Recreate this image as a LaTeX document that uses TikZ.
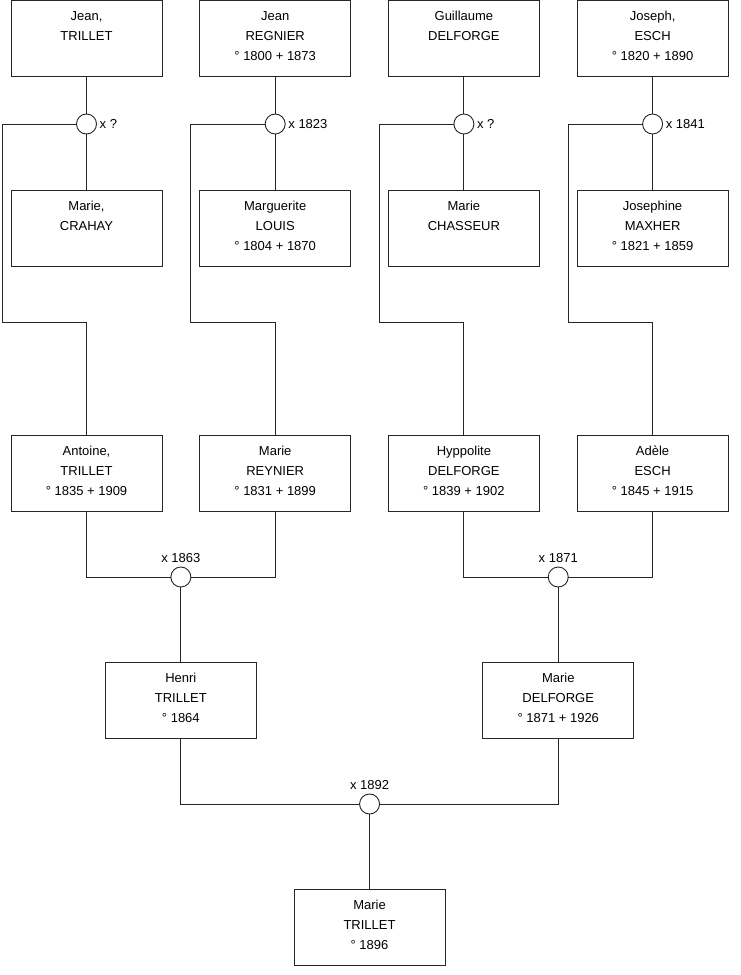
\documentclass[tikz,border=0pt]{standalone}
\usepackage{fontspec}
\setmainfont{Liberation Sans}
\usetikzlibrary{positioning,calc}

\begin{document}
\begin{tikzpicture}[
    node distance=37.7pt,
    person/.style={draw=black!85, line width=0.9pt, outer sep=0pt, minimum width=151pt, minimum height=76pt},
    who/.style={anchor=north, align=center, inner sep=0pt, yshift=-11pt, font=\fontsize{13}{20}\selectfont},
    wed/.style={circle, draw=black!85, line width=0.9pt, outer sep=0pt, minimum size=20pt, inner sep=0pt, fill=white},
    wedlabel/.style={font=\fontsize{13}{16}\selectfont, inner sep=1pt},
    link/.style={line width=0.9pt, black!85},
]
\useasboundingbox (0,0) rectangle (740pt,-975pt);

% generation 1
\node[person, label={[who]north:Jean,\\TRILLET}] (JT) at (86.5pt,-38pt) {};
\node[person, right=of JT, label={[who]north:Jean\\REGNIER\\° 1800 + 1873}] (JR) {};
\node[person, right=of JR, label={[who]north:Guillaume\\DELFORGE}] (GD) {};
\node[person, right=of GD, label={[who]north:Joseph,\\ESCH\\° 1820 + 1890}] (JE) {};

\node[wed, below=38pt of JT, label={[wedlabel, label distance=2pt]right:x ?}] (m1) {};
\node[wed, below=38pt of JR, label={[wedlabel, label distance=2pt]right:x 1823}] (m2) {};
\node[wed, below=38pt of GD, label={[wedlabel, label distance=2pt]right:x ?}] (m3) {};
\node[wed, below=38pt of JE, label={[wedlabel, label distance=2pt]right:x 1841}] (m4) {};

\node[person, below=56pt of m1, label={[who]north:Marie,\\CRAHAY}] (MC) {};
\node[person, below=56pt of m2, label={[who]north:Marguerite\\LOUIS\\° 1804 + 1870}] (ML) {};
\node[person, below=56pt of m3, label={[who]north:Marie\\CHASSEUR}] (MCh) {};
\node[person, below=56pt of m4, label={[who]north:Josephine\\MAXHER\\° 1821 + 1859}] (JM) {};

\draw[link] (JT) -- (m1) -- (MC);
\draw[link] (JR) -- (m2) -- (ML);
\draw[link] (GD) -- (m3) -- (MCh);
\draw[link] (JE) -- (m4) -- (JM);

% generation 2
\node[person, below=169pt of MC, label={[who]north:Antoine,\\TRILLET\\° 1835 + 1909}] (AT) {};
\node[person, below=169pt of ML, label={[who]north:Marie\\REYNIER\\° 1831 + 1899}] (MR) {};
\node[person, below=169pt of MCh, label={[who]north:Hyppolite\\DELFORGE\\° 1839 + 1902}] (HD) {};
\node[person, below=169pt of JM, label={[who]north:Adèle\\ESCH\\° 1845 + 1915}] (AE) {};

\draw[link] (m1.west) -| ([shift={(-9pt,-56pt)}]MC.south west) -| (AT.north);
\draw[link] (m2.west) -| ([shift={(-9pt,-56pt)}]ML.south west) -| (MR.north);
\draw[link] (m3.west) -| ([shift={(-9pt,-56pt)}]MCh.south west) -| (HD.north);
\draw[link] (m4.west) -| ([shift={(-9pt,-56pt)}]JM.south west) -| (AE.north);

% generation 3
\node[wed, label={[wedlabel, label distance=3pt]above:x 1863}] (m5) at ($(AT.south)!.5!(MR.south)+(0,-66pt)$) {};
\node[wed, label={[wedlabel, label distance=3pt]above:x 1871}] (m6) at ($(HD.south)!.5!(AE.south)+(0,-66pt)$) {};
\draw[link] (AT.south) |- (m5.west);
\draw[link] (MR.south) |- (m5.east);
\draw[link] (HD.south) |- (m6.west);
\draw[link] (AE.south) |- (m6.east);

\node[person, below=75pt of m5, label={[who]north:Henri\\TRILLET\\° 1864}] (HT) {};
\node[person, below=75pt of m6, label={[who]north:Marie\\DELFORGE\\° 1871 + 1926}] (MD) {};
\draw[link] (m5) -- (HT);
\draw[link] (m6) -- (MD);

% generation 4
\node[wed, label={[wedlabel, label distance=3pt]above:x 1892}] (m7) at ($(HT.south)!.5!(MD.south)+(0,-66pt)$) {};
\draw[link] (HT.south) |- (m7.west);
\draw[link] (MD.south) |- (m7.east);
\node[person, below=75pt of m7, label={[who]north:Marie\\TRILLET\\° 1896}] (MT) {};
\draw[link] (m7) -- (MT);
\end{tikzpicture}
\end{document}
